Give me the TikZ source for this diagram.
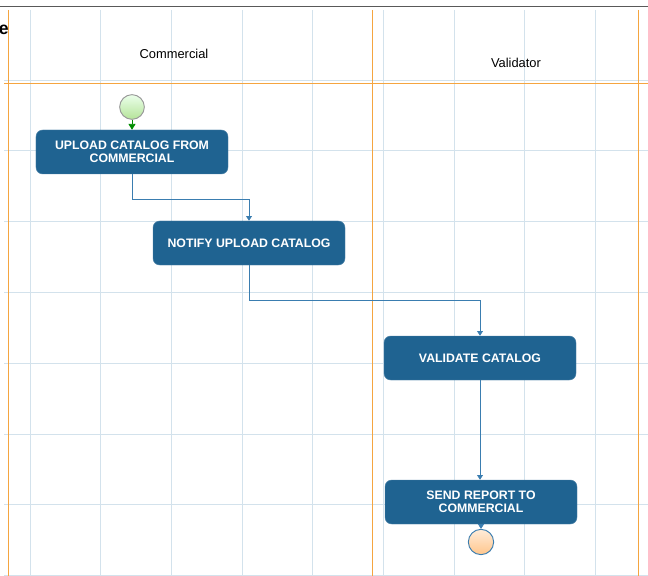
\documentclass[tikz,border=0pt]{standalone}
\usepackage{fontspec}
\setmainfont{Liberation Sans}
\usetikzlibrary{arrows.meta,positioning,calc}
\definecolor{actblue}{HTML}{1F6391}
\definecolor{flowblue}{HTML}{3A7DB0}
\definecolor{gridblue}{HTML}{D3E2EC}
\definecolor{laneorange}{HTML}{F5A540}

\begin{document}
\begin{tikzpicture}[
    x=0.3mm, y=-0.3mm,
    act/.style={draw=actblue!80!white, fill=actblue, rounded corners=2mm, minimum width=57.6mm, minimum height=13.2mm, align=center, text=white, font=\fontsize{10.5}{11.5}\selectfont\bfseries},
    flow/.style={draw=flowblue, line width=0.6pt, -{Triangle[width=5pt,length=4pt]}},
    lane/.style={draw=laneorange, line width=0.8pt}
]
    \useasboundingbox (0,0) rectangle (648,576);

    % Grid
    \foreach \gx in {0,...,8}
        \draw[gridblue, line width=0.7pt] (30+70.7*\gx,10) -- (30+70.7*\gx,576);
    \foreach \gy in {0,...,7}
        \draw[gridblue, line width=0.7pt] (4,80+70.8*\gy) -- (648,80+70.8*\gy);

    % Pool border and lanes
    \draw[black!65, line width=0.8pt] (0,6) -- (648,6);
    \draw[lane] (4,83) -- (648,83);
    \draw[lane] (8,10) -- (8,576);
    \draw[lane] (372,10) -- (372,576);
    \draw[lane] (638,10) -- (638,576);

    % Lane headers
    \node[font=\bfseries\fontsize{15}{16}\selectfont, anchor=east, inner sep=0pt] (pool) at (9,30) {e};
    \node[font=\fontsize{11}{12}\selectfont] (commercial) at (174,54) {Commercial};
    \node[font=\fontsize{11}{12}\selectfont] (validator) at (516,63) {Validator};

    % Events
    \node[circle, draw=black!40, line width=0.8pt, minimum size=7.4mm, inner sep=0pt, top color=green!8!white, bottom color=green!45!olive!40!white] (start) at (132,107) {};
    \node[circle, draw=flowblue, line width=0.8pt, minimum size=7.6mm, inner sep=0pt, top color=orange!15!white, bottom color=orange!45!white] (finish) at (481,542) {};

    % Activities
    \node[act] (upload) at (132,152) {UPLOAD CATALOG FROM\\COMMERCIAL};
    \node[act] (notify) at (249,243) {NOTIFY UPLOAD CATALOG};
    \node[act] (validate) at (480,358) {VALIDATE CATALOG};
    \node[act] (report) at (481,502) {SEND REPORT TO\\COMMERCIAL};

    \draw[flow, draw=green!55!black, -{Triangle[width=6pt,length=5pt]}] (start) -- (upload);
    \draw[flow] (upload.south) -- ++(0,25) -| (notify.north);
    \draw[flow] (notify.south) -- ++(0,35) -| (validate.north);
    \draw[flow] (validate.south) -- (validate.south |- report.north);
    \draw[flow] (report) -- (finish);
\end{tikzpicture}
\end{document}
